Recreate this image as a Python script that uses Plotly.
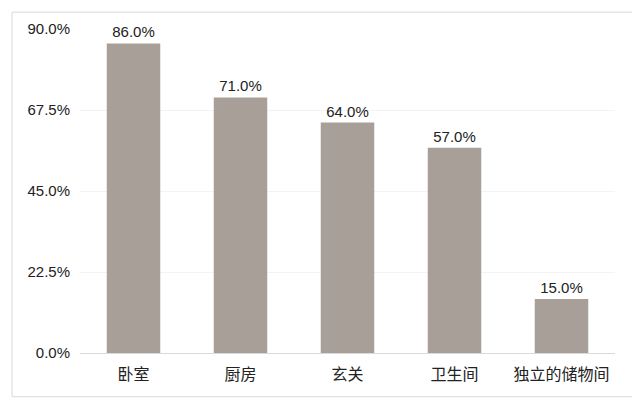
import plotly.graph_objects as go

categories = ["卧室", "厨房", "玄关", "卫生间", "独立的储物间"]
values = [86.0, 71.0, 64.0, 57.0, 15.0]
tick_vals = [0, 22.5, 45, 67.5, 90]
tick_text = ["0.0%", "22.5%", "45.0%", "67.5%", "90.0%"]

fig = go.Figure()

fig.add_trace(go.Bar(
    x=categories,
    y=values,
    marker_color="#a8a098",
    marker_line_width=0,
    text=[f"{v:.1f}%" for v in values],
    textposition="outside",
    textfont=dict(size=15, color="#222222"),
    cliponaxis=False,
    width=0.5,
))

# page body has an 8px margin, so the figure is sized to fit inside it
fig.update_layout(
    width=632,
    height=398,
    margin=dict(l=72, r=25, t=18, b=53),
    paper_bgcolor="white",
    plot_bgcolor="white",
    font=dict(family="Liberation Sans, Arial, Noto Sans CJK SC, sans-serif", size=15, color="#222222"),
    showlegend=False,
    xaxis=dict(
        showline=True,
        linecolor="#d9d9d9",
        linewidth=1,
        ticks="",
        showgrid=False,
        tickfont=dict(family="Noto Sans CJK SC, sans-serif", size=16),
        ticklabelstandoff=7,
    ),
    yaxis=dict(
        range=[0, 90],
        tickvals=tick_vals,
        ticktext=tick_text,
        showgrid=True,
        gridcolor="#f3f3f3",
        zeroline=False,
        ticks="",
        ticklabelstandoff=9,
    ),
    shapes=[dict(
        type="rect", xref="paper", yref="paper",
        x0=-0.127, x1=1.034, y0=-0.135, y1=1.052,
        line=dict(color="#d9d9d9", width=1),
    )],
)

fig.write_html("out.html")
